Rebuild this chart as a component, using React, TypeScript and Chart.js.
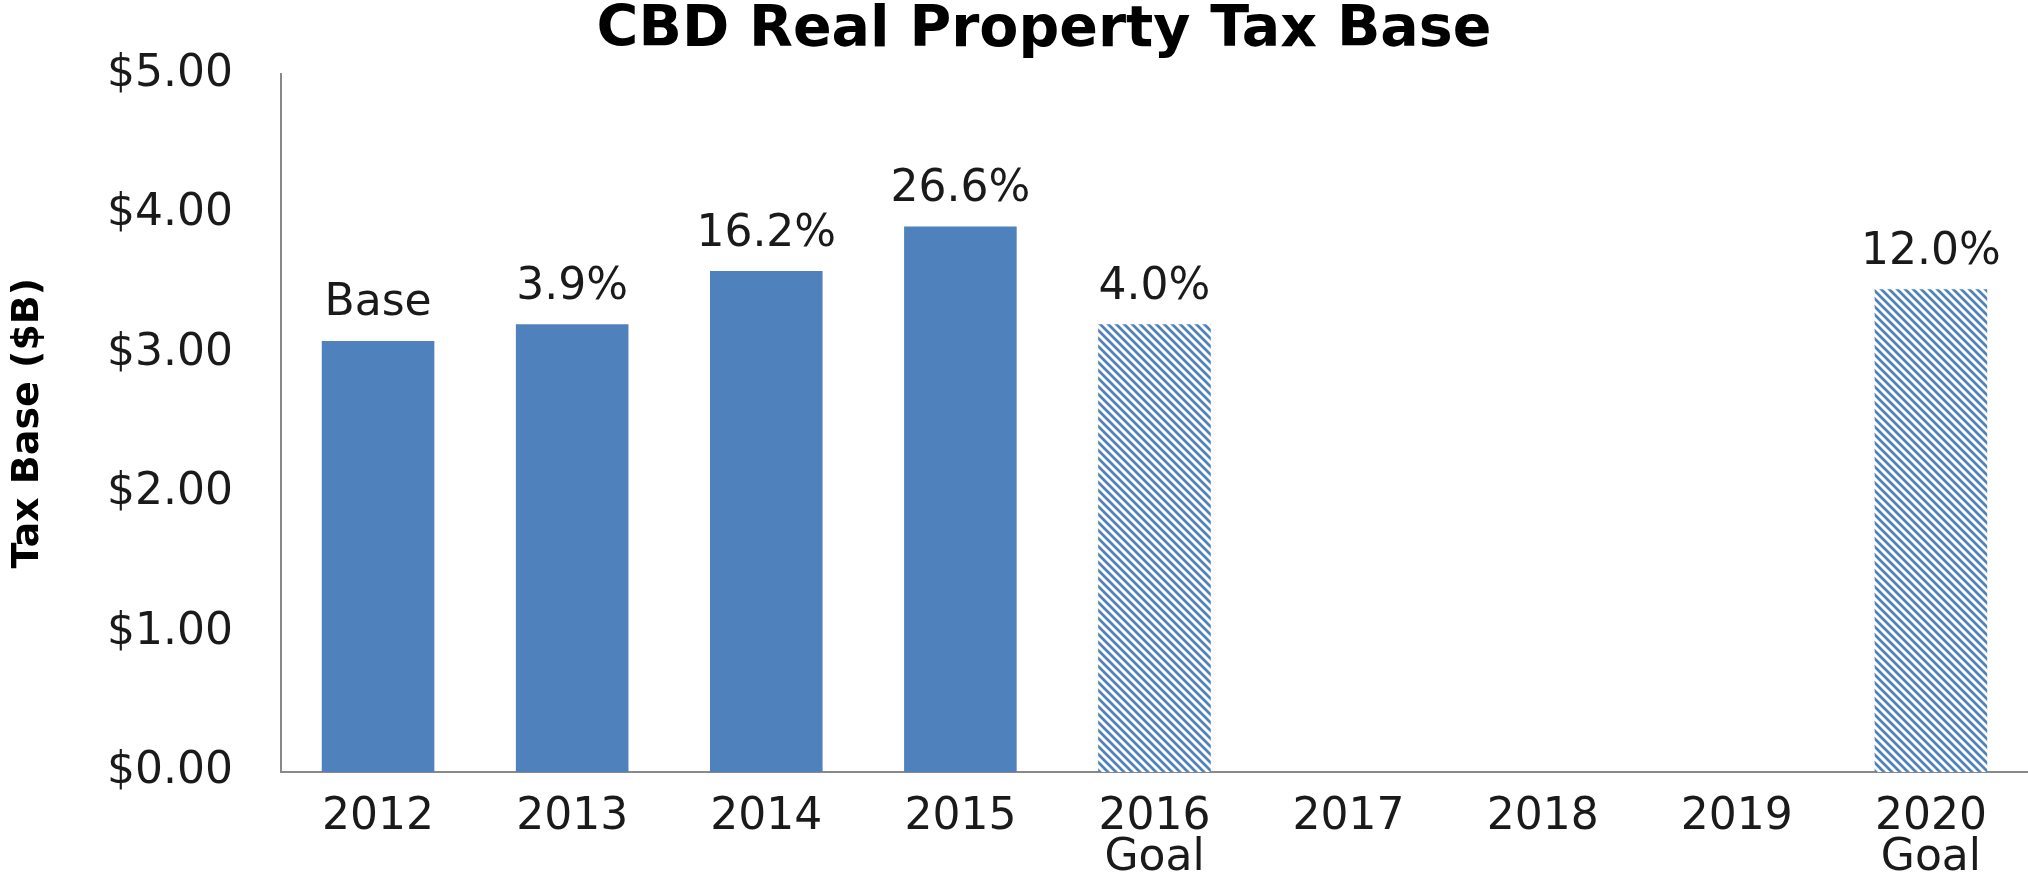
import React, { useEffect, useRef } from 'react';
import { Chart, registerables } from 'chart.js';

Chart.register(...registerables);

// ---- Data ----
const categories: (string | string[])[] = [
  '2012', '2013', '2014', '2015', ['2016', 'Goal'], '2017', '2018', '2019', ['2020', 'Goal'],
];
const taxBase: (number | null)[] = [3.09, 3.21, 3.59, 3.91, 3.21, null, null, null, 3.46];
const barLabels: (string | null)[] = ['Base', '3.9%', '16.2%', '26.6%', '4.0%', null, null, null, '12.0%'];
const isGoal: boolean[] = [false, false, false, false, true, false, false, false, true];
const yTickLabels: string[] = ['$0.00', '$1.00', '$2.00', '$3.00', '$4.00', '$5.00'];

const FONT = '"DejaVu Sans", "Liberation Sans", Arial, sans-serif';
const BLUE = '#4f81bd';
const TEXT = '#1a1a1a';
const AXIS = '#898989';

function makeHatch(color: string): CanvasPattern | string {
  const c = document.createElement('canvas');
  c.width = 8;
  c.height = 8;
  const g = c.getContext('2d');
  if (!g) return color;
  g.fillStyle = '#ffffff';
  g.fillRect(0, 0, 8, 8);
  g.strokeStyle = color;
  g.lineWidth = 2.7;
  g.beginPath();
  g.moveTo(-4, -4); g.lineTo(12, 12);
  g.moveTo(-4, 4); g.lineTo(4, 12);
  g.moveTo(4, -4); g.lineTo(12, 4);
  g.stroke();
  return g.createPattern(c, 'repeat') || color;
}

const barLabelPlugin = {
  id: 'barLabelPlugin',
  afterDatasetsDraw(chart: any) {
    const ctx = chart.ctx as CanvasRenderingContext2D;
    const meta = chart.getDatasetMeta(0);
    ctx.save();
    ctx.font = `44px ${FONT}`;
    ctx.fillStyle = TEXT;
    ctx.textAlign = 'center';
    ctx.textBaseline = 'middle';
    meta.data.forEach((el: any, i: number) => {
      const t = barLabels[i];
      if (!t || taxBase[i] == null) return;
      ctx.fillText(t, el.x, el.y - 37);
    });
    ctx.restore();
  },
};

export default function App() {
  const ref = useRef<HTMLCanvasElement | null>(null);

  useEffect(() => {
    if (!ref.current) return;
    const hatch = makeHatch(BLUE);
    const colors = isGoal.map((g) => (g ? hatch : BLUE));
    const chart = new Chart(ref.current, {
      type: 'bar',
      data: {
        labels: categories,
        datasets: [
          {
            data: taxBase,
            backgroundColor: colors as any,
            borderWidth: 0,
            barPercentage: 0.58,
            categoryPercentage: 1.0,
          },
        ],
      },
      options: {
        animation: false,
        responsive: false,
        maintainAspectRatio: false,
        devicePixelRatio: 1,
        layout: { padding: { left: 60, right: 0, top: 0, bottom: 0 } },
        plugins: {
          legend: { display: false },
          tooltip: { enabled: false },
          title: {
            display: true,
            text: 'CBD Real Property Tax Base',
            color: '#000000',
            font: { family: FONT, size: 57, weight: 'bold', lineHeight: 0.98 },
            padding: { top: 0, bottom: 15 },
          },
        },
        scales: {
          x: {
            grid: { display: false, drawTicks: false },
            border: { display: true, color: AXIS, width: 2 },
            ticks: {
              color: TEXT,
              font: { family: FONT, size: 44, lineHeight: '41px' as any },
              padding: 25,
              maxRotation: 0,
              autoSkip: false,
            },
            afterFit: (scale: any) => {
              scale.height = 104;
            },
          },
          y: {
            min: 0,
            max: 5,
            grid: { display: false, drawTicks: false },
            border: { display: true, color: AXIS, width: 2 },
            ticks: {
              stepSize: 1,
              color: TEXT,
              padding: 48,
              font: { family: FONT, size: 44 },
              callback: (_v: any, i: number) => yTickLabels[i],
            },
            title: {
              display: true,
              text: 'Tax Base ($B)',
              color: '#000000',
              font: { family: FONT, size: 38, weight: 'bold', lineHeight: 1.2 },
              padding: { top: -54.8, bottom: 0 },
            },
            afterFit: (scale: any) => {
              scale.width = 221;
            },
          },
        },
      },
      plugins: [barLabelPlugin],
    });
    return () => chart.destroy();
  }, []);

  return (
    <div style={{ position: 'fixed', left: 0, top: 0, width: 2028, height: 876, background: '#ffffff' }}>
      <canvas ref={ref} width={2028} height={876} style={{ display: 'block' }} />
    </div>
  );
}
